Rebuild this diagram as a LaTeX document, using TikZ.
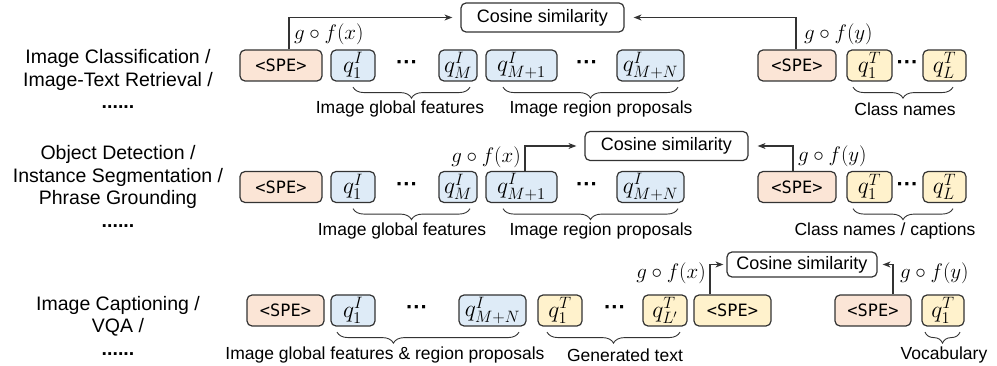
\documentclass[tikz,border=0pt]{standalone}
\usepackage{fix-cm}
\usepackage{fontspec}
\setmainfont{Liberation Sans}
\setmonofont{DejaVu Sans Mono}
\usetikzlibrary{arrows.meta,decorations.pathreplacing}

\definecolor{speRed}{HTML}{FBE5D6}
\definecolor{imgBlue}{HTML}{DEEBF7}
\definecolor{txtYellow}{HTML}{FFF2CC}
\definecolor{edge}{HTML}{333333}

\newcommand{\mdots}{\textperiodcentered\textperiodcentered\textperiodcentered}

\tikzset{
  tok/.style={draw=edge, line width=1.2pt, rounded corners=5pt, minimum height=31pt, inner sep=0pt, font=\fontsize{23.5}{26}\selectfont},
  spe/.style={tok, fill=speRed, font=\ttfamily\fontsize{17}{20}\selectfont},
  spey/.style={spe, fill=txtYellow},
  img/.style={tok, fill=imgBlue},
  txt/.style={tok, fill=txtYellow},
  cosbox/.style={draw=edge, line width=1.2pt, rounded corners=5pt, fill=white, minimum width=163pt, minimum height=29pt, inner sep=0pt, font=\fontsize{18}{21}\selectfont},
  ell/.style={inner sep=0pt, font=\bfseries\fontsize{22}{24}\selectfont},
  fx/.style={inner sep=0pt, font=\fontsize{21}{24}\selectfont},
  lbl/.style={inner sep=0pt, font=\fontsize{17.5}{20}\selectfont},
  task/.style={align=center, inner sep=0pt, font=\fontsize{19.5}{22.5}\selectfont},
  link/.style={-{Stealth[length=8pt,width=6pt]}, line width=1.1pt, draw=edge},
  brc/.style={decorate, decoration={brace, mirror, amplitude=11pt}, line width=0.9pt, draw=edge},
}

\begin{document}
\begin{tikzpicture}[x=1pt, y=-1pt]
    \useasboundingbox (0,0) rectangle (997,366);

    % tasks
    \node[task] (taskA) at (118,79) {Image Classification /\\Image-Text Retrieval /\\\textbf{......}};
    \node[task] (taskB) at (118,186.5) {Object Detection /\\Instance Segmentation /\\Phrase Grounding\\\textbf{......}};
    \node[task] (taskC) at (118,325.5) {Image Captioning /\\VQA /\\\textbf{......}};

    % rows 1 and 2 share the token layout
    \foreach \r/\y in {a/65.5, b/187} {
        \node[spe, minimum width=82pt] (speL\r) at (281,\y) {<SPE>};
        \node[img, minimum width=44pt] (q\r1) at (353,\y) {$q_1^I$};
        \node[ell] (dots\r1) at (407,\y) {\mdots};
        \node[img, minimum width=38pt] (q\r M) at (458,\y) {$q_M^I$};
        \node[img, minimum width=71pt] (q\r M1) at (521.5,\y) {$q_{M+1}^I$};
        \node[ell] (dots\r2) at (587,\y) {\mdots};
        \node[img, minimum width=67pt] (q\r MN) at (650.5,\y) {$q_{M+N}^I$};
        \node[spe, minimum width=78pt] (speR\r) at (797,\y) {<SPE>};
        \node[txt, minimum width=45pt] (q\r T1) at (869.5,\y) {$q_1^T$};
        \node[ell] (dots\r3) at (907.5,\y) {\mdots};
        \node[txt, minimum width=43pt] (q\r TL) at (944.5,\y) {$q_L^T$};

        \draw[brc] ([yshift=-5.5pt]q\r1.south) -- ([xshift=12pt,yshift=-5.5pt]q\r M.south);
        \draw[brc] ([xshift=-18.5pt,yshift=-5.5pt]q\r M1.south) -- ([xshift=27.5pt,yshift=-5.5pt]q\r MN.south);
        \draw[brc] ([xshift=-16.5pt,yshift=-5.5pt]q\r T1.south) -- ([xshift=8.5pt,yshift=-5.5pt]q\r TL.south);
    }

    % row 1
    \node[cosbox] (cosA) at (542.5,17.5) {Cosine similarity};
    \draw[link] ([xshift=8pt]speLa.north) |- ([xshift=-8pt]cosA.west);
    \draw[link] ([xshift=-1pt]speRa.north) |- ([xshift=9pt]cosA.east);
    \node[fx, anchor=west] (fxA) at (294,34) {$g\circ f(x)$};
    \node[fx, anchor=west] (fyA) at (804,34) {$g\circ f(y)$};
    \node[lbl] (glbA) at (400,109) {Image global features};
    \node[lbl] (regA) at (601,109) {Image region proposals};
    \node[lbl] (clsA) at (905,109) {Class names};

    % row 2
    \node[cosbox] (cosB) at (666.5,146) {Cosine similarity};
    \draw[link] ([xshift=3.5pt]qbM1.north) |- ([xshift=-8pt]cosB.west);
    \draw[link] ([xshift=-4pt]speRb.north) |- ([xshift=9pt]cosB.east);
    \node[fx, anchor=east] (fxB) at (521,157) {$g\circ f(x)$};
    \node[fx, anchor=west] (fyB) at (798,156) {$g\circ f(y)$};
    \node[lbl] (glbB) at (402,231) {Image global features};
    \node[lbl] (regB) at (601,231) {Image region proposals};
    \node[lbl] (clsB) at (885,231) {Class names / captions};

    % row 3
    \node[spe, minimum width=77pt] (speLc) at (285.5,310.5) {<SPE>};
    \node[img, minimum width=44pt] (qc1) at (353,310.5) {$q_1^I$};
    \node[ell] (dotsc1) at (417,310.5) {\mdots};
    \node[img, minimum width=67pt] (qcMN) at (492.5,310.5) {$q_{M+N}^I$};
    \node[txt, minimum width=44pt] (qcT1) at (560,310.5) {$q_1^T$};
    \node[ell] (dotsc2) at (615,310.5) {\mdots};
    \node[txt, minimum width=44pt] (qcTL) at (665,310.5) {$q_{L'}^T$};
    \node[spey, minimum width=77pt] (speMc) at (732.5,310.5) {<SPE>};
    \node[spe, minimum width=76pt] (speRc) at (873,310.5) {<SPE>};
    \node[txt, minimum width=42pt] (qcV) at (943,310.5) {$q_1^T$};

    \node[cosbox, minimum width=150pt, minimum height=25pt] (cosC) at (802,264.5) {Cosine similarity};
    \draw[link] ([xshift=-22.5pt]speMc.north) |- ([xshift=-3pt]cosC.west);
    \draw[link] ([xshift=20pt]speRc.north) |- ([xshift=5pt]cosC.east);
    \node[fx, anchor=east] (fxC) at (706,273) {$g\circ f(x)$};
    \node[fx, anchor=west] (fyC) at (900,273) {$g\circ f(y)$};

    \draw[brc, decoration={aspect=0.31}] ([xshift=-16pt,yshift=-5.5pt]qc1.south) -- ([xshift=26.5pt,yshift=-5.5pt]qcMN.south);
    \draw[brc] ([xshift=-13pt,yshift=-5.5pt]qcT1.south) -- ([xshift=15pt,yshift=-5.5pt]qcTL.south);
    \draw[brc] ([xshift=-18pt,yshift=-5.5pt]qcV.south) -- ([xshift=17pt,yshift=-5.5pt]qcV.south);
    \node[lbl] (allC) at (385,355) {Image global features \& region proposals};
    \node[lbl] (genC) at (625,355) {Generated text};
    \node[lbl] (vocC) at (944,355) {Vocabulary};
\end{tikzpicture}
\end{document}
